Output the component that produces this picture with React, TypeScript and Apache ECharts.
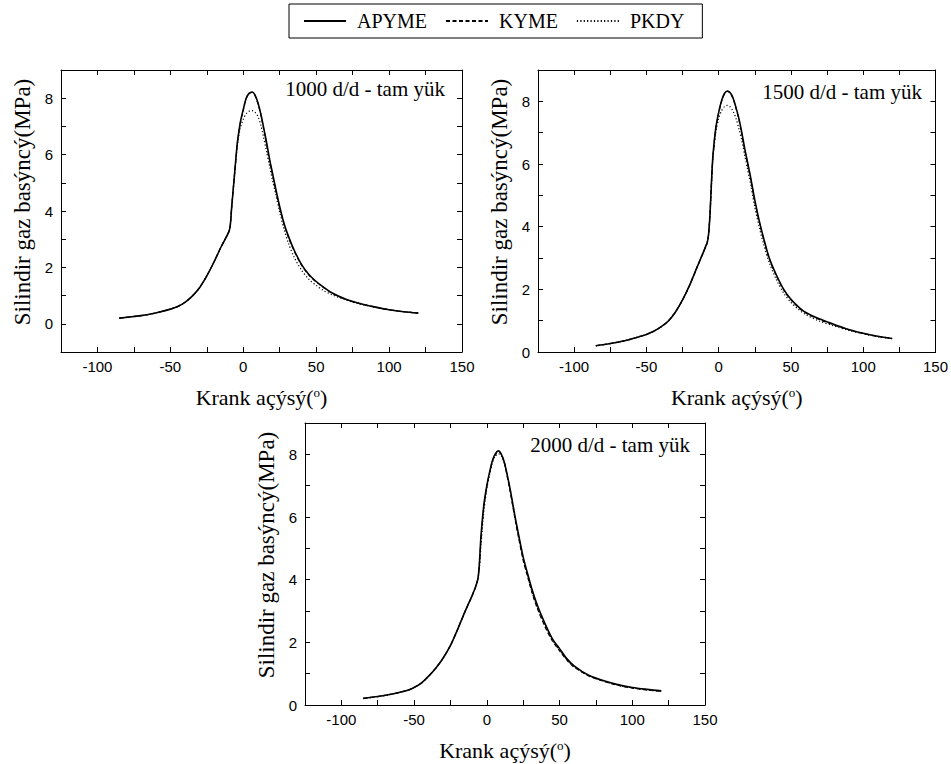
import React, { useEffect, useRef } from "react";
import * as echarts from "echarts";

// Crank angle (degrees) shared by all curves
const crankAngles = [-85, -75, -65, -55, -50, -45, -40, -35, -30, -25, -20, -15, -10, -9, -8, -7, -6, -5, -4, -2, 0, 2, 4, 6, 8, 10, 12, 14, 16, 18, 20, 22, 25, 28, 31, 35, 40, 45, 50, 55, 60, 70, 80, 90, 100, 110, 120];

// 1000 d/d
const apyme1000 = [0.2, 0.26, 0.33, 0.45, 0.52, 0.61, 0.76, 0.98, 1.28, 1.7, 2.2, 2.75, 3.25, 3.45, 4.1, 4.7, 5.3, 5.9, 6.45, 7.15, 7.6, 8.0, 8.17, 8.22, 8.12, 7.85, 7.45, 6.95, 6.42, 5.85, 5.35, 4.85, 4.15, 3.55, 3.1, 2.6, 2.1, 1.75, 1.5, 1.3, 1.12, 0.88, 0.72, 0.6, 0.5, 0.43, 0.38];
const kyme1000 = [0.2, 0.26, 0.33, 0.45, 0.52, 0.61, 0.76, 0.98, 1.28, 1.7, 2.2, 2.75, 3.25, 3.45, 4.1, 4.7, 5.3, 5.88, 6.42, 7.12, 7.58, 7.98, 8.16, 8.21, 8.1, 7.82, 7.42, 6.9, 6.37, 5.8, 5.3, 4.8, 4.1, 3.52, 3.06, 2.57, 2.08, 1.73, 1.48, 1.29, 1.11, 0.87, 0.71, 0.6, 0.5, 0.43, 0.38];
const pkdy1000 = [0.2, 0.26, 0.33, 0.45, 0.52, 0.61, 0.76, 0.98, 1.28, 1.7, 2.2, 2.75, 3.25, 3.45, 4.1, 4.7, 5.3, 5.85, 6.35, 6.95, 7.25, 7.45, 7.54, 7.56, 7.5, 7.36, 7.05, 6.6, 6.1, 5.6, 5.1, 4.65, 3.95, 3.35, 2.85, 2.35, 1.9, 1.58, 1.36, 1.18, 1.05, 0.85, 0.7, 0.59, 0.5, 0.43, 0.38];

// 1500 d/d
const apyme1500 = [0.2, 0.27, 0.36, 0.49, 0.56, 0.66, 0.8, 0.98, 1.27, 1.66, 2.14, 2.7, 3.25, 3.37, 3.48, 3.75, 4.4, 5.4, 6.25, 7.15, 7.65, 8.02, 8.25, 8.33, 8.27, 8.1, 7.8, 7.45, 7.0, 6.5, 6.05, 5.6, 4.85, 4.2, 3.65, 3.0, 2.45, 2.0, 1.68, 1.45, 1.27, 1.05, 0.88, 0.72, 0.6, 0.5, 0.43];
const kyme1500 = [0.2, 0.27, 0.36, 0.49, 0.56, 0.66, 0.8, 0.98, 1.27, 1.66, 2.14, 2.7, 3.25, 3.37, 3.48, 3.75, 4.4, 5.4, 6.22, 7.12, 7.62, 8.0, 8.24, 8.32, 8.26, 8.08, 7.77, 7.42, 6.96, 6.46, 6.0, 5.55, 4.8, 4.16, 3.62, 2.97, 2.42, 1.98, 1.66, 1.43, 1.25, 1.03, 0.86, 0.71, 0.59, 0.5, 0.43];
const pkdy1500 = [0.2, 0.27, 0.36, 0.49, 0.56, 0.66, 0.8, 0.98, 1.27, 1.66, 2.14, 2.7, 3.25, 3.37, 3.48, 3.75, 4.4, 5.35, 6.15, 7.0, 7.45, 7.7, 7.83, 7.87, 7.82, 7.68, 7.45, 7.12, 6.75, 6.28, 5.82, 5.38, 4.62, 4.0, 3.45, 2.85, 2.3, 1.88, 1.58, 1.37, 1.2, 0.98, 0.83, 0.69, 0.58, 0.49, 0.42];

// 2000 d/d
const apyme2000 = [0.21, 0.27, 0.35, 0.46, 0.56, 0.7, 0.92, 1.18, 1.5, 1.9, 2.42, 2.98, 3.5, 3.62, 3.73, 3.88, 4.05, 4.6, 5.4, 6.4, 7.0, 7.45, 7.82, 8.03, 8.11, 8.0, 7.75, 7.35, 6.9, 6.38, 5.87, 5.4, 4.72, 4.2, 3.7, 3.15, 2.6, 2.12, 1.8, 1.48, 1.25, 0.95, 0.78, 0.65, 0.56, 0.5, 0.45];
const kyme2000 = [0.21, 0.27, 0.35, 0.46, 0.56, 0.7, 0.92, 1.18, 1.5, 1.9, 2.42, 2.98, 3.5, 3.62, 3.73, 3.88, 4.05, 4.55, 5.3, 6.35, 6.97, 7.43, 7.8, 8.0, 8.1, 8.0, 7.75, 7.3, 6.82, 6.3, 5.78, 5.3, 4.62, 4.1, 3.6, 3.05, 2.5, 2.05, 1.73, 1.43, 1.21, 0.93, 0.76, 0.63, 0.54, 0.48, 0.44];
const pkdy2000 = [0.21, 0.27, 0.35, 0.46, 0.56, 0.7, 0.92, 1.18, 1.5, 1.9, 2.42, 2.98, 3.5, 3.62, 3.73, 3.88, 4.05, 4.4, 5.1, 6.2, 6.9, 7.38, 7.75, 7.95, 8.02, 7.95, 7.72, 7.33, 6.87, 6.35, 5.83, 5.35, 4.66, 4.13, 3.62, 3.07, 2.53, 2.07, 1.75, 1.45, 1.22, 0.94, 0.77, 0.64, 0.55, 0.49, 0.44];

const seriesNames = ["APYME", "KYME", "PKDY"];
const panelTitles = ["1000 d/d - tam yük", "1500 d/d - tam yük", "2000 d/d - tam yük"];
const panelData = [
  [apyme1000, kyme1000, pkdy1000],
  [apyme1500, kyme1500, pkdy1500],
  [apyme2000, kyme2000, pkdy2000],
];
const yMins = [-1, 0, 0];
const yMax = 9;
const xMin = -125;
const xMax = 150;

const yName = "Silindir gaz basýncý(MPa)";
const xName = "Krank açýsý({sup|o})";

const SERIF = '"Liberation Serif", "Times New Roman", serif';
const SANS = '"Liberation Sans", Arial, sans-serif';

const grids = [
  { left: 61, top: 70, width: 401, height: 282 },
  { left: 538, top: 70, width: 400, height: 282 },
  { left: 305, top: 423, width: 400, height: 282 },
];

const titlePos = [
  { right: 506, top: 78 },
  { right: 29, top: 81 },
  { right: 261, top: 434 },
];

const lineStyles = [
  { type: "solid", width: 1.6 },
  { type: [4, 2.5], width: 1.2 },
  { type: [1.2, 2.2], width: 1.2 },
];

export default function App() {
  const ref = useRef<HTMLDivElement>(null);

  useEffect(() => {
    document.body.style.margin = "0";
    if (!ref.current) return;
    const chart = echarts.init(ref.current, undefined, { renderer: "svg" });

    const axisLine = { show: true, onZero: false, lineStyle: { color: "#000", width: 1 } };
    const tick = { show: true, inside: true, length: 5, lineStyle: { color: "#000", width: 1 } };

    const xAxes: any[] = [];
    const yAxes: any[] = [];
    [0, 1, 2].forEach((i) => {
      xAxes.push({
        type: "value",
        gridIndex: i,
        position: "bottom",
        min: xMin,
        max: xMax,
        interval: 25,
        axisLine,
        axisTick: tick,
        splitLine: { show: false },
        axisLabel: {
          color: "#000",
          fontFamily: SANS,
          fontSize: 15,
          margin: 7,
          formatter: (v: number) => (v % 50 === 0 ? String(v) : ""),
        },
        name: xName,
        nameLocation: "middle",
        nameGap: 34,
        nameTextStyle: {
          color: "#000",
          fontFamily: SERIF,
          fontSize: 22,
          rich: {
            sup: { fontFamily: SERIF, fontSize: 13, color: "#000", verticalAlign: "top", padding: [0, 0, 6, 0] },
          },
        },
      });
      yAxes.push({
        type: "value",
        gridIndex: i,
        position: "left",
        min: yMins[i],
        max: yMax,
        interval: 1,
        axisLine,
        axisTick: tick,
        splitLine: { show: false },
        axisLabel: {
          color: "#000",
          fontFamily: SANS,
          fontSize: 15,
          margin: 8,
          formatter: (v: number) => (v % 2 === 0 ? String(v) : ""),
        },
        name: yName,
        nameLocation: "middle",
        nameGap: 27,
        nameTextStyle: { color: "#000", fontFamily: SERIF, fontSize: 23, padding: [0, 0, 0, 18] },
      });
    });
    [0, 1, 2].forEach((i) => {
      xAxes.push({
        type: "value",
        gridIndex: i,
        position: "top",
        min: xMin,
        max: xMax,
        interval: 25,
        axisLine,
        axisTick: tick,
        splitLine: { show: false },
        axisLabel: { show: false },
      });
      yAxes.push({
        type: "value",
        gridIndex: i,
        position: "right",
        min: yMins[i],
        max: yMax,
        interval: 1,
        axisLine,
        axisTick: tick,
        splitLine: { show: false },
        axisLabel: { show: false },
      });
    });

    const series: any[] = [];
    panelData.forEach((curves, i) => {
      curves.forEach((vals, k) => {
        series.push({
          type: "line",
          name: seriesNames[k],
          xAxisIndex: i,
          yAxisIndex: i,
          data: crankAngles.map((a, j) => [a, vals[j]]),
          showSymbol: false,
          symbol: "none",
          smooth: 0.3,
          z: 5 - k,
          lineStyle: { color: "#000", ...lineStyles[k] },
          itemStyle: { color: "#000" },
        });
      });
    });

    const option: any = {
      animation: false,
      backgroundColor: "#fff",
      grid: grids,
      xAxis: xAxes,
      yAxis: yAxes,
      legend: {
        data: seriesNames,
        left: 289,
        top: 4,
        padding: [7, 18, 7, 14],
        itemGap: 18,
        itemWidth: 42,
        itemHeight: 14,
        borderColor: "#000",
        borderWidth: 1,
        borderRadius: 0,
        selectedMode: false,
        itemStyle: { opacity: 0, borderWidth: 0 },
        textStyle: { color: "#000", fontFamily: SERIF, fontSize: 20, padding: [0, 0, 0, 6] },
      },
      graphic: panelTitles.map((t, i) => ({
        type: "text",
        right: titlePos[i].right,
        top: titlePos[i].top,
        style: { text: t, font: `21px ${SERIF}`, fill: "#000" },
      })),
      series,
    };
    chart.setOption(option);
    return () => chart.dispose();
  }, []);

  return <div ref={ref} style={{ width: 951, height: 764 }} />;
}
